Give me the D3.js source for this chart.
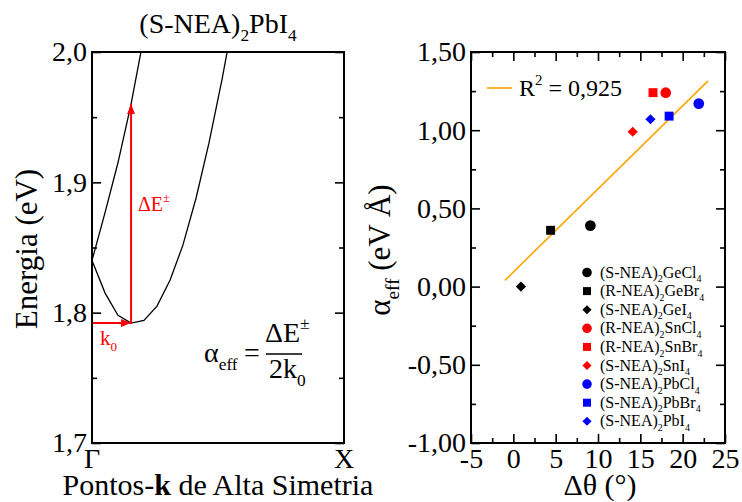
<!DOCTYPE html>
<html lang="pt">
<head>
<meta charset="UTF-8">
<title>(S-NEA)2PbI4 - Rashba</title>
<script src="https://d3js.org/d3.v7.min.js"></script>
<style>
  body { margin: 0; background: #fff; }
  svg { display: block; font-family: "Liberation Serif", "Times New Roman", serif; }
</style>
</head>
<body>
<div id="chart"></div>
<script>
// --- left panel: bands near Gamma (k as fraction of Gamma-X, E in eV)
const kBandA = [0, 0.052, 0.103, 0.155, 0.206];
const eBandA = [1.840, 1.877, 1.915, 1.960, 2.012];
const kBandB = [0, 0.052, 0.103, 0.155, 0.206, 0.258, 0.310, 0.361, 0.413, 0.464, 0.516, 0.567];
const eBandB = [1.840, 1.815, 1.798, 1.792, 1.794, 1.805, 1.825, 1.852, 1.888, 1.930, 1.979, 2.032];
const k0 = 0.155, eMin = 1.792, eTop = 1.960;
const energyTicks = [1.7, 1.8, 1.9, 2.0];
const energyMinor = [1.75, 1.85, 1.95];
const kLabels = ["Γ", "X"];
const kLabelPos = [0, 1];

// --- right panel: alpha_eff vs delta theta
const cation = ["S", "R", "S", "R", "R", "S", "S", "S", "S"];
const anion = ["GeCl", "GeBr", "GeI", "SnCl", "SnBr", "SnI", "PbCl", "PbBr", "PbI"];
const dTheta = [9.1, 4.4, 0.9, 18.0, 16.5, 14.1, 21.9, 18.4, 16.2];
const alphaEff = [0.39, 0.36, 0.00, 1.24, 1.24, 0.99, 1.17, 1.09, 1.07];
const fitX = [-1, 23];
const fitY = [0.04, 1.315];
const fitLabel = "0,925";
const thetaTicks = [-5, 0, 5, 10, 15, 20, 25];
const thetaMinor = [-2.5, 2.5, 7.5, 12.5, 17.5, 22.5];
const alphaTicks = [-1, -0.5, 0, 0.5, 1, 1.5];
const alphaMinor = [-0.75, -0.25, 0.25, 0.75, 1.25];

const metalColor = { Ge: "#000000", Sn: "#ff0000", Pb: "#0000ff" };
const halideShape = { Cl: "circle", Br: "square", I: "diamond" };
const serif = "'Liberation Serif', 'Times New Roman', serif";

const width = 742, height = 502;
const svg = d3.select("#chart").append("svg")
    .attr("width", width).attr("height", height);

svg.append("defs").append("marker")
    .attr("id", "arrowRed")
    .attr("viewBox", "0 0 10 10")
    .attr("refX", 10).attr("refY", 5)
    .attr("markerWidth", 5).attr("markerHeight", 5)
    .attr("orient", "auto")
  .append("path")
    .attr("d", "M0,1 L10,5 L0,9 Z")
    .attr("fill", "#ff0000");

// text with sub/superscripts: parts = [[text, kind]]
function richText(parent, x, y, parts, fs, anchor, color) {
    const t = parent.append("text")
        .attr("x", x).attr("y", y)
        .attr("font-size", fs)
        .attr("text-anchor", anchor || "start")
        .attr("fill", color || "#000");
    let shift = 0;
    parts.forEach(([s, kind]) => {
        const target = kind === "sub" ? fs * 0.3 : kind === "sup" ? -fs * 0.45 : 0;
        const ts = t.append("tspan")
            .attr("dy", target - shift)
            .attr("font-size", (kind === "sub" || kind === "sup") ? fs * 0.62 : fs)
            .text(s);
        if (kind === "bold") ts.attr("font-weight", "bold");
        shift = target;
    });
    return t;
}

function shapePath(shape, size) {
    if (shape === "circle") return d3.symbol(d3.symbolCircle, size)();
    return d3.symbol(d3.symbolSquare, size)();
}

function drawTicks(g, axis) {
    g.call(axis);
    g.select(".domain").remove();
    g.selectAll(".tick line").attr("stroke", "#000").attr("stroke-width", 1.6);
}

// ================= LEFT PANEL =================
const L = { x0: 92, x1: 344, y0: 52, y1: 443 };
const kx = d3.scaleLinear().domain([0, 1]).range([L.x0, L.x1]);
const ey = d3.scaleLinear().domain([1.7, 2.0]).range([L.y1, L.y0]);

const left = svg.append("g");
left.append("clipPath").attr("id", "clipL")
  .append("rect").attr("x", L.x0).attr("y", L.y0)
    .attr("width", L.x1 - L.x0).attr("height", L.y1 - L.y0);

const line = d3.line().x(d => kx(d[0])).y(d => ey(d[1]));
const bands = [d3.zip(kBandA, eBandA), d3.zip(kBandB, eBandB)];
left.append("g").attr("clip-path", "url(#clipL)")
  .selectAll("path").data(bands).join("path")
    .attr("d", line)
    .attr("fill", "none")
    .attr("stroke", "#000")
    .attr("stroke-width", 1.3);

// red arrows
left.append("line")
    .attr("x1", kx(0)).attr("y1", ey(eMin))
    .attr("x2", kx(k0)).attr("y2", ey(eMin))
    .attr("stroke", "#ff0000").attr("stroke-width", 2)
    .attr("marker-end", "url(#arrowRed)");
left.append("line")
    .attr("x1", kx(k0)).attr("y1", ey(eMin))
    .attr("x2", kx(k0)).attr("y2", ey(eTop))
    .attr("stroke", "#ff0000").attr("stroke-width", 2)
    .attr("marker-end", "url(#arrowRed)");

richText(left, 138, 211, [["ΔE"], ["±", "sup"]], 20, "start", "#ff0000");
richText(left, 100, 345, [["k"], ["0", "sub"]], 21, "start", "#ff0000");

// formula
richText(left, 204, 362, [["α"], ["eff", "sub"]], 28);
left.append("text").attr("x", 244).attr("y", 362).attr("font-size", 28).text("=");
richText(left, 265, 342, [["ΔE"], ["±", "sup"]], 28);
left.append("line")
    .attr("x1", 266).attr("x2", 302).attr("y1", 354).attr("y2", 354)
    .attr("stroke", "#000").attr("stroke-width", 1.5);
richText(left, 269, 378, [["2k"], ["0", "sub"]], 28);

// axes
const fmt1 = d => d.toFixed(1).replace(".", ",");
drawTicks(left.append("g").attr("transform", `translate(${L.x0},0)`),
    d3.axisLeft(ey).tickValues(energyTicks).tickSize(-9).tickPadding(5).tickFormat(fmt1));
drawTicks(left.append("g").attr("transform", `translate(${L.x0},0)`),
    d3.axisLeft(ey).tickValues(energyMinor).tickSize(-5).tickFormat(""));
drawTicks(left.append("g").attr("transform", `translate(${L.x1},0)`),
    d3.axisRight(ey).tickValues(energyTicks).tickSize(-9).tickFormat(""));
drawTicks(left.append("g").attr("transform", `translate(${L.x1},0)`),
    d3.axisRight(ey).tickValues(energyMinor).tickSize(-5).tickFormat(""));
left.selectAll(".tick text").attr("font-size", 28).attr("fill", "#000");

left.selectAll(".kl").data(kLabels).join("text")
    .attr("class", "kl")
    .attr("x", (d, i) => kx(kLabelPos[i]))
    .attr("y", 468)
    .attr("text-anchor", "middle")
    .attr("font-size", 28)
    .text(d => d);

left.append("rect")
    .attr("x", L.x0).attr("y", L.y0)
    .attr("width", L.x1 - L.x0).attr("height", L.y1 - L.y0)
    .attr("fill", "none").attr("stroke", "#000").attr("stroke-width", 2);

richText(left, 218, 33, [["(S-NEA)"], ["2", "sub"], ["PbI"], ["4", "sub"]], 28, "middle");
richText(left, 218, 495, [["Pontos-"], ["k", "bold"], [" de Alta Simetria"]], 30, "middle");
left.append("text")
    .attr("transform", "translate(37,249) rotate(-90)")
    .attr("text-anchor", "middle")
    .attr("font-size", 31)
    .text("Energia (eV)");

// ================= RIGHT PANEL =================
const R = { x0: 471, x1: 725, y0: 52, y1: 443 };
const tx = d3.scaleLinear().domain([-5, 25]).range([R.x0, R.x1]);
const ay = d3.scaleLinear().domain([-1, 1.5]).range([R.y1, R.y0]);
const right = svg.append("g");

const fmt2 = d => d.toFixed(2).replace(".", ",");
drawTicks(right.append("g").attr("transform", `translate(${R.x0},0)`),
    d3.axisLeft(ay).tickValues(alphaTicks).tickSize(-9).tickPadding(5).tickFormat(fmt2));
drawTicks(right.append("g").attr("transform", `translate(${R.x0},0)`),
    d3.axisLeft(ay).tickValues(alphaMinor).tickSize(-5).tickFormat(""));
drawTicks(right.append("g").attr("transform", `translate(${R.x1},0)`),
    d3.axisRight(ay).tickValues(alphaTicks).tickSize(-9).tickFormat(""));
drawTicks(right.append("g").attr("transform", `translate(${R.x1},0)`),
    d3.axisRight(ay).tickValues(alphaMinor).tickSize(-5).tickFormat(""));
drawTicks(right.append("g").attr("transform", `translate(0,${R.y1})`),
    d3.axisBottom(tx).tickValues(thetaTicks).tickSize(-9).tickPadding(5).tickFormat(d => String(d)));
drawTicks(right.append("g").attr("transform", `translate(0,${R.y1})`),
    d3.axisBottom(tx).tickValues(thetaMinor).tickSize(-5).tickFormat(""));
drawTicks(right.append("g").attr("transform", `translate(0,${R.y0})`),
    d3.axisTop(tx).tickValues(thetaTicks).tickSize(-9).tickFormat(""));
drawTicks(right.append("g").attr("transform", `translate(0,${R.y0})`),
    d3.axisTop(tx).tickValues(thetaMinor).tickSize(-5).tickFormat(""));
right.selectAll(".tick text").attr("font-size", 28).attr("fill", "#000");

// fit line
right.append("line")
    .attr("x1", tx(fitX[0])).attr("y1", ay(fitY[0]))
    .attr("x2", tx(fitX[1])).attr("y2", ay(fitY[1]))
    .attr("stroke", "#ffa500").attr("stroke-width", 1.6);

// points
const pts = anion.map((a, i) => ({
    x: dTheta[i], y: alphaEff[i],
    color: metalColor[a.slice(0, 2)],
    shape: halideShape[a.slice(2)]
}));
const symSize = { circle: 90, square: 80, diamond: 52 };
right.selectAll(".pt").data(pts).join("path")
    .attr("class", "pt")
    .attr("d", d => shapePath(d.shape, symSize[d.shape]))
    .attr("transform", d => `translate(${tx(d.x)},${ay(d.y)})` + (d.shape === "diamond" ? " rotate(45)" : ""))
    .attr("fill", d => d.color);

right.append("rect")
    .attr("x", R.x0).attr("y", R.y0)
    .attr("width", R.x1 - R.x0).attr("height", R.y1 - R.y0)
    .attr("fill", "none").attr("stroke", "#000").attr("stroke-width", 2);

// fit legend
right.append("line")
    .attr("x1", 487).attr("x2", 512).attr("y1", 88).attr("y2", 88)
    .attr("stroke", "#ffa500").attr("stroke-width", 1.6);
richText(right, 519, 96, [["R"], ["2", "sup"], [" = " + fitLabel]], 24);

// compound legend
const legY0 = 272.5, legDy = 18.6;
const leg = right.selectAll(".leg").data(pts).join("g")
    .attr("class", "leg")
    .attr("transform", (d, i) => `translate(587,${legY0 + i * legDy})`);
leg.append("path")
    .attr("d", d => shapePath(d.shape, symSize[d.shape] * 0.8))
    .attr("transform", d => d.shape === "diamond" ? "rotate(45)" : null)
    .attr("fill", d => d.color);
leg.each(function (d, i) {
    richText(d3.select(this), 13, 5, [["(" + cation[i] + "-NEA)"], ["2", "sub"], [anion[i]], ["4", "sub"]], 16);
});

// axis titles
richText(right, 600, 495, [["Δθ (°)"]], 30, "middle");
richText(right.append("g").attr("transform", "translate(390,250) rotate(-90)"),
    0, 0, [["α"], ["eff", "sub"], [" (eV Å)"]], 31, "middle");

svg.selectAll("text").attr("font-family", serif);
</script>
</body>
</html>
